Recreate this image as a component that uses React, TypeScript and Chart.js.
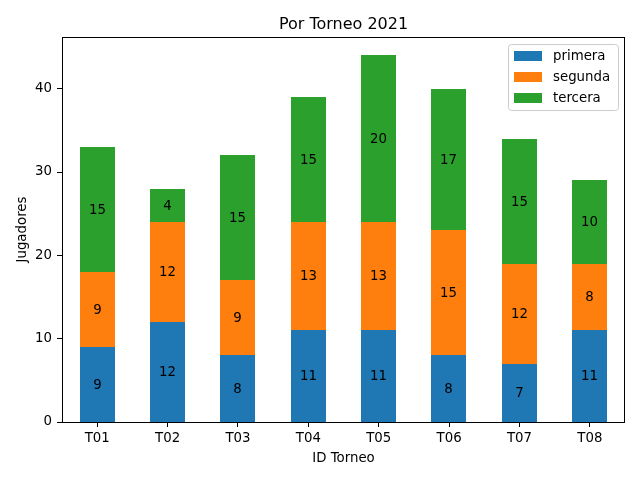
import React, { useEffect, useRef } from "react";
import { Chart, registerables } from "chart.js";

Chart.register(...registerables);

const categories = ["T01", "T02", "T03", "T04", "T05", "T06", "T07", "T08"];
const primera = [9, 12, 8, 11, 11, 8, 7, 11];
const segunda = [9, 12, 9, 13, 13, 15, 12, 8];
const tercera = [15, 4, 15, 15, 20, 17, 15, 10];
const seriesNames = ["primera", "segunda", "tercera"];
const seriesColors = ["#1f77b4", "#ff7f0e", "#2ca02c"];
const yTicks = [0, 10, 20, 30, 40];
const yMax = 46.2;
const chartTitle = "Por Torneo 2021";
const xTitle = "ID Torneo";
const yTitle = "Jugadores";

const FONT = "DejaVu Sans";

const overlayPlugin = {
  id: "overlay",
  beforeDatasetsDraw(chart: any) {
    chart.data.datasets.forEach((_ds: any, di: number) => {
      const meta = chart.getDatasetMeta(di);
      meta.data.forEach((el: any) => {
        const w = Math.round(el.width);
        const left = Math.round(el.x - el.width / 2);
        el.width = w;
        el.x = left + w / 2;
        el.y = Math.round(el.y);
        el.base = Math.round(el.base);
      });
    });
  },
  afterDatasetsDraw(chart: any) {
    const ctx = chart.ctx;
    ctx.save();
    ctx.fillStyle = "#000";
    ctx.font = `13.33px "${FONT}"`;
    ctx.textAlign = "center";
    ctx.textBaseline = "middle";
    chart.data.datasets.forEach((ds: any, di: number) => {
      const meta = chart.getDatasetMeta(di);
      meta.data.forEach((el: any, i: number) => {
        const v = ds.data[i];
        const y = (el.y + el.base) / 2;
        ctx.fillText(String(v), el.x, y + 1);
      });
    });
    ctx.restore();
  },
  afterDraw(chart: any) {
    const ctx = chart.ctx;
    const a = chart.chartArea;
    ctx.save();
    // spines
    ctx.strokeStyle = "#000";
    ctx.lineWidth = 1;
    ctx.strokeRect(Math.round(a.left) + 0.5, Math.round(a.top) + 0.5, Math.round(a.right - a.left) - 1, Math.round(a.bottom - a.top));
    // title
    ctx.fillStyle = "#000";
    ctx.font = `16px "${FONT}"`;
    ctx.textAlign = "center";
    ctx.textBaseline = "alphabetic";
    ctx.fillText(chartTitle, (a.left + a.right) / 2, a.top - 8);
    // x title
    ctx.font = `13.33px "${FONT}"`;
    ctx.fillText(xTitle, (a.left + a.right) / 2, 462);
    // y title
    ctx.save();
    ctx.translate(26, (a.top + a.bottom) / 2);
    ctx.rotate(-Math.PI / 2);
    ctx.fillText(yTitle, 0, 0);
    ctx.restore();
    // legend
    const lx = 508.5, ly = 44.5, lw = 110, lh = 66;
    ctx.fillStyle = "rgba(255,255,255,0.8)";
    ctx.strokeStyle = "#cccccc";
    ctx.beginPath();
    const r = 3;
    ctx.moveTo(lx + r, ly);
    ctx.lineTo(lx + lw - r, ly);
    ctx.arcTo(lx + lw, ly, lx + lw, ly + r, r);
    ctx.lineTo(lx + lw, ly + lh - r);
    ctx.arcTo(lx + lw, ly + lh, lx + lw - r, ly + lh, r);
    ctx.lineTo(lx + r, ly + lh);
    ctx.arcTo(lx, ly + lh, lx, ly + lh - r, r);
    ctx.lineTo(lx, ly + r);
    ctx.arcTo(lx, ly, lx + r, ly, r);
    ctx.closePath();
    ctx.fill();
    ctx.stroke();
    ctx.textAlign = "left";
    ctx.textBaseline = "middle";
    seriesNames.forEach((name, i) => {
      const cy = 56 + i * 21;
      ctx.fillStyle = seriesColors[i];
      ctx.fillRect(514, cy - 5, 28, 10);
      ctx.fillStyle = "#000";
      ctx.fillText(name, 553, cy + 1);
    });
    ctx.restore();
  },
};

export default function App() {
  const ref = useRef<HTMLCanvasElement>(null);
  useEffect(() => {
    document.body.style.margin = "0";
    Chart.defaults.font.family = FONT;
    Chart.defaults.font.size = 13.33;
    Chart.defaults.color = "#000";
    const datasetsData = [primera, segunda, tercera];
    const chart = new Chart(ref.current as HTMLCanvasElement, {
      type: "bar",
      data: {
        labels: categories,
        datasets: datasetsData.map((d, i) => ({
          label: seriesNames[i],
          data: d,
          backgroundColor: seriesColors[i],
          borderWidth: 0,
          inflateAmount: 0,
          barPercentage: 0.5,
          categoryPercentage: 1,
        })),
      },
      options: {
        animation: false,
        responsive: false,
        devicePixelRatio: 1,
        layout: { padding: { top: 37, right: 15, left: 0, bottom: 0 } },
        plugins: {
          legend: { display: false },
          title: { display: false },
          tooltip: { enabled: false },
        },
        scales: {
          x: {
            stacked: true,
            grid: { display: true, offset: false, drawOnChartArea: false, drawTicks: true, tickLength: 5, color: "#000" },
            border: { display: false },
            ticks: { padding: 4, color: "#000", maxRotation: 0 },
            afterFit(scale: any) {
              scale.height = 58;
            },
          },
          y: {
            stacked: true,
            min: 0,
            max: yMax,
            grid: { display: true, drawOnChartArea: false, drawTicks: true, tickLength: 5, color: "#000" },
            border: { display: false },
            ticks: { padding: 5, color: "#000" },
            afterBuildTicks(scale: any) {
              scale.ticks = yTicks.map((v) => ({ value: v }));
            },
            afterFit(scale: any) {
              scale.width = 62;
            },
          },
        },
      },
      plugins: [overlayPlugin],
    } as any);
    return () => chart.destroy();
  }, []);
  return (
    <div style={{ position: "absolute", left: 0, top: 0, width: 640, height: 480, background: "#fff" }}>
      <canvas ref={ref} width={640} height={480} />
    </div>
  );
}
